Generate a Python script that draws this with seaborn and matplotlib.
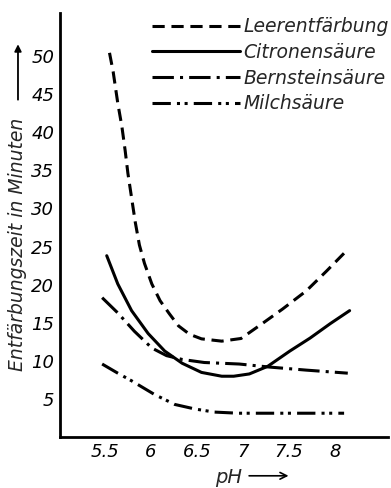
import matplotlib
matplotlib.use("Agg")
import matplotlib.pyplot as plt
import seaborn as sns
import pandas as pd

# ---- data ----
leer_ph = [5.55, 5.59, 5.64, 5.685, 5.72, 5.75, 5.79, 5.83, 5.875, 5.93, 6.01, 6.10, 6.20,
           6.30, 6.42, 6.55, 6.77, 6.98, 7.21, 7.43, 7.69, 7.91, 8.13]
leer_t = [50.4, 47.9, 43.8, 40.7, 37.6, 34.6, 31.4, 28.2, 25.2, 22.8, 20.1, 17.9, 16.2,
          14.6, 13.5, 12.9, 12.6, 12.95, 14.9, 16.8, 19.2, 21.8, 24.5]
citr_ph = [5.52, 5.64, 5.79, 5.97, 6.15, 6.34, 6.55, 6.77, 6.90, 7.07, 7.27, 7.51, 7.73, 7.95, 8.16]
citr_t = [23.8, 20.1, 16.6, 13.6, 11.3, 9.7, 8.5, 8.0, 8.0, 8.3, 9.3, 11.3, 13.0, 14.9, 16.6]
bern_ph = [5.47, 5.64, 5.82, 6.01, 6.17, 6.34, 6.58, 6.96, 7.29, 7.69, 8.14]
bern_t = [18.3, 16.3, 13.9, 11.7, 10.7, 10.2, 9.8, 9.6, 9.2, 8.8, 8.4]
milch_ph = [5.47, 5.64, 5.79, 6.04, 6.26, 6.48, 6.69, 6.95, 7.3, 7.7, 8.1]
milch_t = [9.6, 8.4, 7.4, 5.6, 4.3, 3.7, 3.3, 3.15, 3.15, 3.15, 3.15]

series_names = ["Leerentfärbung", "Citronensäure", "Bernsteinsäure", "Milchsäure"]
x_ticks = [5.5, 6, 6.5, 7, 7.5, 8]
x_ticklabels = ["5.5", "6", "6.5", "7", "7.5", "8"]
y_ticks = [5, 10, 15, 20, 25, 30, 35, 40, 45, 50]

frames = []
for name, xs, ys in zip(series_names, [leer_ph, citr_ph, bern_ph, milch_ph],
                        [leer_t, citr_t, bern_t, milch_t]):
    frames.append(pd.DataFrame({"pH": xs, "t": ys, "Reihe": name}))
df = pd.concat(frames, ignore_index=True)

sns.set_style("white")
plt.rcParams["font.family"] = ["DejaVu Sans"]

fig = plt.figure(figsize=(3.91, 4.88), dpi=100)
ax = fig.add_axes([0.153, 0.104, 0.84, 0.869])

dashes = {
    "Leerentfärbung": (4, 2.2),
    "Citronensäure": "",
    "Bernsteinsäure": (7, 2, 1, 2),
    "Milchsäure": (6, 2, 1, 1.5, 1, 2),
}
sns.lineplot(data=df, x="pH", y="t", style="Reihe", style_order=series_names,
             dashes=dashes, color="black", linewidth=2.2, sort=False,
             estimator=None, ax=ax, legend=True)
for ln in ax.get_lines():
    ln.set_solid_joinstyle("round")
    ln.set_dash_joinstyle("round")

ax.set_xlim(5.01, 8.58)
ax.set_ylim(0, 55.6)
ax.set_xticks(x_ticks)
ax.set_xticklabels(x_ticklabels, fontstyle="italic", fontsize=13)
ax.set_yticks(y_ticks)
ax.set_yticklabels([str(v) for v in y_ticks], fontstyle="italic", fontsize=13)
ax.tick_params(axis="both", direction="in", length=4, width=1.2, colors="black", pad=4)
ax.set_xlabel("")
ax.set_ylabel("")
for s in ["top", "right"]:
    ax.spines[s].set_visible(False)
for s in ["left", "bottom"]:
    ax.spines[s].set_linewidth(2.0)
    ax.spines[s].set_color("black")

leg = ax.legend(loc="upper right", bbox_to_anchor=(0.995, 0.965),
                bbox_transform=fig.transFigure, frameon=False,
                handlelength=4.7, handletextpad=0.2, labelspacing=0.36,
                borderaxespad=0, borderpad=0,
                prop={"style": "italic", "size": 13.5})
for line in leg.get_lines():
    line.set_linewidth(2.2)

# axis labels with arrows
fig.text(0.046, 0.50, "Entfärbungszeit in Minuten", rotation=90, ha="center",
         va="center", fontstyle="italic", fontsize=13.5)
fig.add_artist(matplotlib.patches.FancyArrowPatch(
    (0.046, 0.79), (0.046, 0.915), transform=fig.transFigure,
    arrowstyle="-|>", mutation_scale=10, color="black", lw=1.3))
fig.text(0.585, 0.003, "pH", ha="center", va="bottom", fontstyle="italic", fontsize=14)
fig.add_artist(matplotlib.patches.FancyArrowPatch(
    (0.63, 0.025), (0.745, 0.025), transform=fig.transFigure,
    arrowstyle="->", mutation_scale=12, color="black", lw=1.2))

fig.savefig("out.png", dpi=100)
